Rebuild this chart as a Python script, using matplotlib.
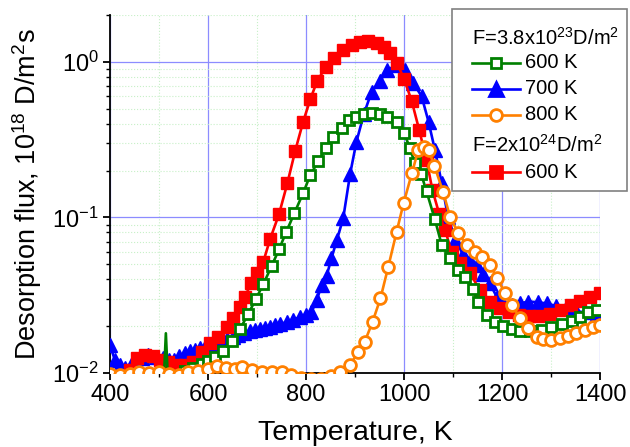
import numpy as np
import matplotlib
matplotlib.use("Agg")
import matplotlib.pyplot as plt
from matplotlib.lines import Line2D
from matplotlib.patches import Rectangle
from matplotlib.ticker import LogLocator, MultipleLocator, NullFormatter

plt.rcParams['font.family'] = ['Liberation Sans', 'DejaVu Sans']
plt.rcParams['mathtext.fontset'] = 'custom'
plt.rcParams['mathtext.rm'] = 'Liberation Sans'
plt.rcParams['mathtext.it'] = 'Liberation Sans:italic'

# F=3.8e23 D/m2, 600 K (green, open squares)
green_T = [500, 510, 514, 518, 530, 553, 570, 587, 600, 614, 631, 648, 665, 682, 698,
           713, 730, 745, 760, 776, 794, 809, 825, 841, 856, 873, 888, 903, 918, 934,
           950, 965, 985, 1000, 1012, 1022, 1035, 1046, 1063, 1077, 1094, 1111, 1124,
           1141, 1152, 1169, 1186, 1203, 1220, 1237, 1257, 1281, 1301, 1322, 1342,
           1359, 1376, 1393]
green_flux = [0.0092, 0.0093, 0.018, 0.0094, 0.0098, 0.0103, 0.0108, 0.0114, 0.012,
              0.0127, 0.0139, 0.0161, 0.0191, 0.0239, 0.030, 0.0373, 0.0488, 0.0624,
              0.081, 0.106, 0.143, 0.188, 0.229, 0.281, 0.328, 0.375, 0.42, 0.445,
              0.463, 0.472, 0.463, 0.445, 0.413, 0.351, 0.279, 0.223, 0.19, 0.147,
              0.097, 0.0665, 0.0547, 0.046, 0.0416, 0.0345, 0.0288, 0.0236, 0.0214,
              0.020, 0.0191, 0.0187, 0.0186, 0.0189, 0.0197, 0.0207, 0.0217, 0.023,
              0.0248, 0.0254]

# F=3.8e23 D/m2, 700 K (blue, triangles)
blue_T = [400, 410, 420, 431, 443, 454, 466, 478, 493, 508, 520, 530, 541, 553, 563,
          573, 584, 594, 605, 616, 627, 638, 650, 662, 674, 686, 696, 706, 717, 727,
          737, 747, 761, 774, 788, 800, 811, 822, 832, 842, 852, 863, 876, 890, 903,
          918, 934, 951, 965, 985, 1002, 1019, 1036, 1050, 1063, 1077, 1090, 1105,
          1120, 1135, 1148, 1162, 1175, 1189, 1203, 1220, 1237, 1254, 1274, 1291,
          1310, 1330, 1350, 1370, 1393]
blue_flux = [0.0151, 0.0121, 0.0112, 0.0108, 0.0113, 0.0118, 0.0125, 0.013, 0.0127,
             0.0124, 0.0122, 0.0122, 0.0128, 0.0134, 0.0138, 0.0141, 0.0145, 0.0148,
             0.0152, 0.0156, 0.016, 0.0165, 0.017, 0.0175, 0.018, 0.0185, 0.0189,
             0.0192, 0.0196, 0.0199, 0.0203, 0.0207, 0.0212, 0.0219, 0.023, 0.0236,
             0.0245, 0.0295, 0.0368, 0.042, 0.0547, 0.0716, 0.099, 0.19, 0.307, 0.46,
             0.644, 0.75, 0.88, 0.96, 0.89, 0.73, 0.60, 0.413, 0.272, 0.166, 0.10,
             0.072, 0.058, 0.0533, 0.0495, 0.043, 0.0377, 0.031, 0.028, 0.0275, 0.028,
             0.0288, 0.0285, 0.028, 0.027, 0.026, 0.025, 0.0245, 0.0238]

# F=3.8e23 D/m2, 800 K (orange, open circles)
orange_T = [400, 420, 440, 460, 480, 500, 520, 540, 560, 580, 600, 618, 636, 655, 670,
            690, 710, 730, 750, 770, 790, 810, 830, 850, 869, 890, 907, 920, 936, 952,
            968, 985, 999, 1016, 1029, 1040, 1050, 1062, 1080, 1094, 1111, 1128, 1145,
            1159, 1175, 1190, 1206, 1220, 1237, 1254, 1271, 1284, 1301, 1318, 1335,
            1352, 1369, 1386, 1400]
orange_flux = [0.0098, 0.0097, 0.0099, 0.0101, 0.0100, 0.0102, 0.0099, 0.0097, 0.0101,
               0.0103, 0.0106, 0.0111, 0.0107, 0.0106, 0.0109, 0.0104, 0.0101, 0.0102,
               0.0101, 0.0097, 0.0093, 0.0091, 0.0092, 0.0096, 0.0101, 0.0113, 0.0137,
               0.0159, 0.0214, 0.0302, 0.0483, 0.081, 0.123, 0.192, 0.27, 0.285, 0.272,
               0.215, 0.145, 0.101, 0.079, 0.0665, 0.060, 0.056, 0.0495, 0.041, 0.0326,
               0.0274, 0.0225, 0.0194, 0.0171, 0.0165, 0.0163, 0.0167, 0.0173, 0.018,
               0.0189, 0.0197, 0.0204]

# F=2e24 D/m2, 600 K (red, filled squares)
red_T = [440, 455, 471, 487, 503, 518, 535, 553, 570, 587, 604, 621, 638, 652, 665, 676,
         688, 700, 713, 727, 745, 762, 778, 794, 809, 823, 840, 857, 876, 893, 910, 927,
         944, 959, 971, 985, 1000, 1016, 1031, 1046, 1058, 1072, 1084, 1097, 1114, 1135,
         1155, 1175, 1195, 1215, 1235, 1255, 1275, 1298, 1320, 1340, 1360, 1380, 1400]
red_flux = [0.0105, 0.0125, 0.013, 0.0128, 0.0122, 0.0118, 0.0113, 0.0113, 0.0118,
            0.0137, 0.0155, 0.0171, 0.0199, 0.0225, 0.0267, 0.031, 0.038, 0.044, 0.052,
            0.073, 0.105, 0.166, 0.268, 0.41, 0.578, 0.755, 0.92, 1.06, 1.19, 1.29, 1.35,
            1.36, 1.33, 1.25, 1.14, 0.99, 0.78, 0.556, 0.365, 0.234, 0.15, 0.105, 0.083,
            0.060, 0.0507, 0.0437, 0.034, 0.0288, 0.026, 0.0245, 0.0235, 0.0232, 0.0234,
            0.0238, 0.0255, 0.0272, 0.029, 0.031, 0.0325]

GREEN = '#008000'
BLUE = '#0000ff'
ORANGE = '#ff8000'
RED = '#ff0000'

fig = plt.figure(figsize=(6.3, 4.47), dpi=100)
ax = fig.add_axes([110 / 630, 1 - 373 / 447, 490 / 630, 358 / 447])

LW = 1.9
ax.plot(blue_T, blue_flux, color=BLUE, lw=LW, marker='^', ms=10.5,
        mfc=BLUE, mec=BLUE, zorder=3)
ax.plot(red_T, red_flux, color=RED, lw=LW, marker='s', ms=8.5,
        mfc=RED, mec=RED, zorder=4)
green_marks = [i for i, t in enumerate(green_T) if t > 540]
ax.plot(green_T, green_flux, color=GREEN, lw=LW, marker='s', ms=7.5,
        mfc='white', mec=GREEN, mew=2.0, markevery=green_marks, zorder=5)
ax.plot(orange_T, orange_flux, color=ORANGE, lw=LW, marker='o', ms=8.5,
        mfc='white', mec=ORANGE, mew=2.0, zorder=6)

ax.set_yscale('log')
ax.set_xlim(400, 1400)
ax.set_ylim(0.01, 2.0)
ax.xaxis.set_major_locator(MultipleLocator(200))
ax.xaxis.set_minor_locator(MultipleLocator(100))
ax.yaxis.set_major_locator(LogLocator(base=10, numticks=10))
ax.yaxis.set_minor_locator(LogLocator(base=10, subs=np.arange(2, 10), numticks=20))
ax.yaxis.set_minor_formatter(NullFormatter())

ax.set_axisbelow(True)
ax.grid(which='major', color='#8c8cff', lw=0.9, ls='-')
ax.grid(which='minor', color='#c8f0c8', lw=0.8, ls=':')

for side in ['top', 'right']:
    ax.spines[side].set_visible(False)
for side in ['left', 'bottom']:
    ax.spines[side].set_linewidth(1.3)

ax.tick_params(which='major', direction='out', length=5, width=1.3, labelsize=17, pad=3)
ax.tick_params(which='minor', direction='out', length=3, width=1.0)

ax.set_xlabel('Temperature, K', fontsize=20.5)
ax.xaxis.set_label_coords(0.5, -0.13)
ax.set_ylabel('Desorption flux, 10$^{18}$ D/m$^2$s', fontsize=19.5)
ax.yaxis.set_label_coords(-0.135, 0.5)

# legend drawn by hand in figure pixels
def fx(px):
    return px / 630

def fy(py):
    return 1 - py / 447

fig.add_artist(Rectangle((fx(452), fy(191)), fx(627) - fx(452), fy(9) - fy(191),
                         transform=fig.transFigure, facecolor='white',
                         edgecolor='#808080', lw=1.2, zorder=10))

fs = 14.5
fig.text(fx(472), fy(38), 'F=3.8x10$^{23}$D/m$^2$', fontsize=fs, va='center', zorder=11)
fig.text(fx(472), fy(145), 'F=2x10$^{24}$D/m$^2$', fontsize=fs, va='center', zorder=11)

entries = [(63, GREEN, 's', 'white', 7.5),
           (89, BLUE, '^', BLUE, 10.5),
           (115, ORANGE, 'o', 'white', 8.5),
           (172, RED, 's', RED, 8.5)]
labels = ['600 K', '700 K', '800 K', '600 K']
for (py, c, m, fc, ms), lab in zip(entries, labels):
    fig.add_artist(Line2D([fx(472), fx(520)], [fy(py), fy(py)], transform=fig.transFigure,
                          color=c, lw=LW, zorder=11))
    fig.add_artist(Line2D([fx(496)], [fy(py)], transform=fig.transFigure, color=c,
                          marker=m, ms=ms, mfc=fc, mec=c, mew=2.0, zorder=12))
    fig.text(fx(525), fy(py), lab, fontsize=fs, va='center', zorder=11)

fig.savefig('out.png', dpi=100)
